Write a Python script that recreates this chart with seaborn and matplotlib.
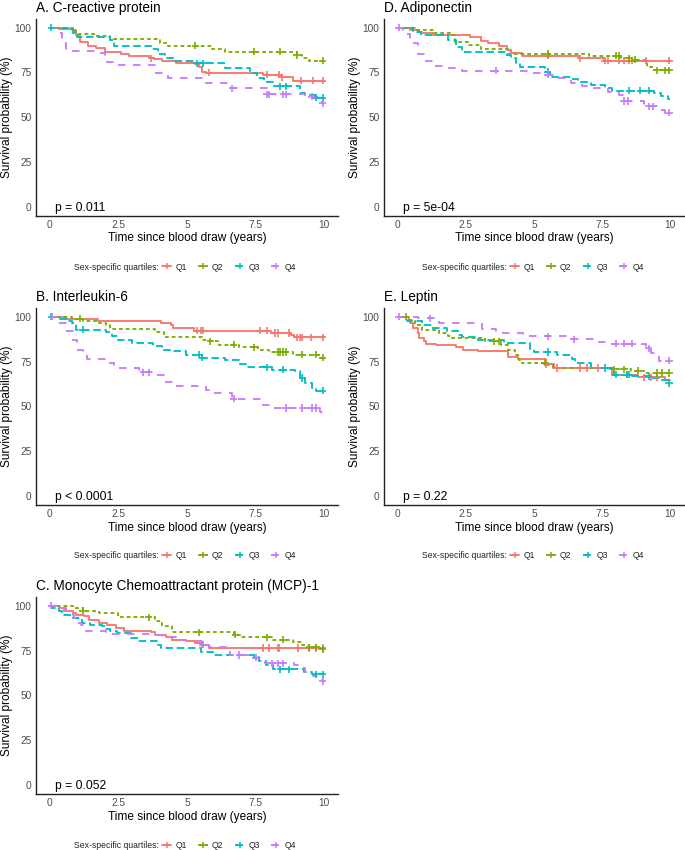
import numpy as np
import pandas as pd
import matplotlib
matplotlib.use("Agg")
import matplotlib.pyplot as plt
from matplotlib.lines import Line2D
import seaborn as sns

# ---------------- data ----------------
FOLLOW_UP = 10
GROUPS = ["Q1", "Q2", "Q3", "Q4"]

# Panel A: C-reactive protein
A_Q1_t = [0, 0.35, 0.8, 0.95, 1.1, 1.4, 1.7, 2.0, 2.6, 2.9, 3.6, 3.8, 4.1, 4.6, 5.3, 5.45, 5.55, 5.7, 7.75, 8.4, 8.85]
A_Q1_s = [100, 99, 98.7, 95.9, 92.2, 89.8, 88.5, 86.6, 85.3, 84.2, 82.9, 82.3, 81.6, 80.4, 79.7, 78.2, 75.4, 74.9, 73.6, 72.3, 70.4]
A_Q1_c = [3.7, 5.8, 7.9, 8.35, 8.45, 9.15, 9.6, 9.95]
A_Q2_t = [0, 0.8, 0.95, 1.7, 2.2, 4.0, 4.3, 5.9, 6.4, 9.0, 9.2, 9.45]
A_Q2_s = [100, 98, 96.3, 95.5, 93.5, 91.2, 89.8, 87.9, 86.6, 84.7, 82.9, 81.6]
A_Q2_c = [5.3, 7.45, 8.4, 9.0, 9.95]
A_Q3_t = [0, 0.85, 1.0, 2.2, 2.35, 3.7, 3.95, 4.2, 4.5, 5.3, 6.4, 7.3, 7.55, 7.8, 8.15, 9.1, 9.3, 9.7]
A_Q3_s = [100, 97, 95, 93, 89.5, 87.9, 85.3, 83.2, 81.6, 80.1, 77.3, 74.9, 71.7, 69.8, 67.2, 63.3, 62.4, 60.8]
A_Q3_c = [0.05, 5.35, 5.6, 8.4, 8.6, 9.7, 9.95]
A_Q4_t = [0, 0.3, 0.45, 0.6, 1.6, 2.0, 2.1, 2.4, 3.85, 4.3, 5.7, 6.6, 7.9, 9.3, 9.8, 9.9]
A_Q4_s = [100, 96.8, 91.2, 87.1, 85.6, 83.4, 81, 79.1, 74.9, 71.7, 69.3, 66.1, 62.9, 61.5, 59.6, 57.7]
A_Q4_c = [6.65, 7.9, 8.0, 8.5, 8.6, 9.55, 9.95]

# Panel B: Interleukin-6
B_Q1_t = [0, 0.6, 1.75, 4.05, 4.4, 4.5, 5.25, 8.05, 8.8, 8.9]
B_Q1_s = [100, 98.9, 97.4, 96.5, 95.2, 93.7, 92.2, 90.9, 89.6, 88.5]
B_Q1_c = [5.35, 5.5, 5.6, 7.65, 7.9, 8.2, 8.3, 8.7, 9.0, 9.1, 9.2, 9.5, 9.95]
B_Q2_t = [0, 0.8, 1.2, 1.8, 2.05, 2.2, 3.85, 4.15, 5.55, 5.8, 6.15, 6.9, 7.6, 8.0, 8.85, 9.8]
B_Q2_s = [100, 98.9, 97.4, 96.5, 95.2, 93.3, 91.4, 88.5, 87.2, 86.2, 84.4, 82.9, 81.6, 80.3, 78.8, 77]
B_Q2_c = [1.1, 5.85, 6.7, 7.45, 8.3, 8.4, 8.5, 8.6, 9.2, 9.7, 9.95]
B_Q3_t = [0, 0.3, 0.6, 0.8, 0.95, 2.05, 2.25, 2.5, 3.0, 3.75, 4.1, 4.45, 4.95, 5.55, 6.4, 6.9, 7.15, 8.1, 8.95, 9.1, 9.3, 9.55, 9.7]
B_Q3_s = [100, 98.9, 97.8, 96.5, 92.8, 91.4, 89, 87.2, 85.3, 83.5, 81.6, 80.7, 78.8, 77, 76, 73.6, 71.7, 70.4, 69.5, 65.8, 63, 60.2, 58.7]
B_Q3_c = [0.05, 1.2, 5.45, 5.55, 7.9, 8.5, 9.2, 9.95]
B_Q4_t = [0, 0.3, 0.6, 0.85, 1.0, 1.2, 1.35, 2.1, 2.35, 3.25, 3.9, 4.15, 4.5, 5.7, 5.95, 6.65, 7.7, 8.1, 9.85]
B_Q4_s = [100, 96.5, 91.8, 87.2, 81.6, 78.8, 76.6, 74.2, 71.4, 69.1, 67.6, 63.5, 61.2, 59.3, 57.2, 54.3, 50.9, 49.1, 46.8]
B_Q4_c = [0.1, 3.4, 3.6, 6.7, 8.6, 9.2, 9.55, 9.7]

# Panel C: MCP-1
C_Q1_t = [0, 0.35, 0.52, 0.83, 0.95, 1.25, 1.43, 1.8, 2.1, 2.4, 2.7, 3.7, 3.85, 4.25, 4.45, 4.95, 5.3, 5.55, 5.8]
C_Q1_s = [100, 98.7, 97.2, 95.9, 95, 94, 92.2, 90.3, 89, 87.5, 86.1, 85.3, 83.8, 82.3, 81, 80.1, 79.2, 78.3, 76.4]
C_Q1_c = [5.55, 5.6, 7.75, 8.0, 8.3, 8.35, 9.05, 9.45, 9.7, 9.95]
C_Q2_t = [0, 0.83, 1.2, 1.8, 2.5, 3.85, 4.1, 4.45, 6.72, 7.0, 8.1, 8.85, 9.2, 9.45, 9.8]
C_Q2_s = [100, 98.7, 97.2, 96, 93.5, 91.3, 88.5, 85.1, 83.8, 82.3, 81, 79.7, 78.3, 76.8, 75.8]
C_Q2_c = [1.2, 3.6, 5.45, 6.75, 7.9, 8.5, 9.45, 9.7, 9.95]
C_Q3_t = [0, 0.1, 0.34, 0.45, 0.83, 1.19, 1.45, 1.9, 2.05, 2.2, 2.45, 2.95, 3.25, 3.92, 4.05, 5.5, 5.93, 7.45, 7.63, 7.87, 8.12, 9.25, 9.55]
C_Q3_s = [100, 98.7, 96.8, 95, 93, 90.3, 89.4, 88.5, 87.2, 85.7, 84.5, 82, 80.5, 78.3, 76.4, 74.2, 72.7, 71.2, 69, 67.1, 64.5, 63, 61.7]
C_Q3_c = [8.4, 8.7, 9.7, 9.95]
C_Q4_t = [0, 0.4, 0.6, 0.83, 0.9, 0.95, 1.13, 1.31, 2.04, 2.28, 3.74, 4.1, 4.6, 4.96, 5.6, 5.8, 6.55, 7.4, 7.85, 8.9, 9.1, 9.3, 9.6, 9.9]
C_Q4_s = [100, 98.7, 97.2, 95, 93.1, 90.3, 89.4, 86.1, 85.3, 84.3, 83.5, 82.3, 81, 80.1, 78.3, 77, 72.5, 71, 68, 67, 65.5, 63, 61, 58]
C_Q4_c = [0.05, 5.6, 6.9, 7.5, 8.1, 8.3, 8.5, 9.95]

# Panel D: Adiponectin
D_Q1_t = [0, 0.45, 0.75, 0.9, 1.3, 2.65, 3.05, 3.3, 3.7, 4.0, 4.15, 4.55, 6.7, 7.55]
D_Q1_s = [100, 98.7, 97.8, 96.8, 96.0, 94.8, 92.8, 91.6, 89.8, 87.5, 85.6, 84.2, 82.9, 81.4]
D_Q1_c = [5.5, 6.7, 7.6, 7.7, 8.1, 8.3, 8.5, 8.6, 9.1, 9.95]
D_Q2_t = [0, 0.65, 1.35, 1.95, 2.1, 2.6, 3.05, 4.05, 7.0, 8.2, 8.6, 9.15, 9.4]
D_Q2_s = [100, 98.7, 96.8, 95.9, 92.2, 90.3, 87.9, 85.3, 84.2, 83.0, 82.0, 78.2, 76.3]
D_Q2_c = [5.5, 8.0, 8.1, 8.5, 8.7, 9.5, 9.8, 9.95]
D_Q3_t = [0, 0.55, 0.85, 1.85, 2.15, 2.35, 3.95, 4.15, 4.35, 4.5, 5.4, 5.6, 6.35, 6.6, 7.1, 7.6, 7.85, 9.4, 9.65, 9.9]
D_Q3_s = [100, 97.8, 95.9, 93.1, 89.4, 86.6, 84.7, 82.9, 80.1, 78.2, 75.4, 72.6, 71.2, 69.9, 68.0, 66.1, 64.8, 63.7, 61.8, 60.1]
D_Q3_c = [5.5, 8.5, 8.9, 9.2]
D_Q4_t = [0, 0.2, 0.45, 0.75, 1.0, 1.35, 1.9, 2.35, 4.8, 5.4, 5.8, 6.35, 6.75, 7.1, 7.7, 8.1, 8.25, 9.05, 9.65, 9.8]
D_Q4_s = [100, 96.5, 91.2, 85.3, 81.6, 78.8, 77.3, 76, 74.9, 73.6, 72.0, 68.9, 67.4, 66.1, 64.3, 62.4, 59.0, 56.2, 54, 52.5]
D_Q4_c = [0.05, 3.6, 5.5, 8.3, 8.45, 9.2, 9.35, 9.95]

# Panel E: Leptin
E_Q1_t = [0, 0.4, 0.45, 0.55, 0.75, 0.8, 0.95, 1.05, 1.4, 2.15, 2.4, 2.95, 4.05, 4.4, 5.45, 5.75, 7.85, 8.8, 9.8]
E_Q1_s = [100, 98.3, 96.5, 93.7, 90.9, 88.1, 86.2, 84.8, 84, 82.9, 81.6, 80.7, 77.5, 76.5, 73.5, 71.4, 67.7, 66.2, 64.5]
E_Q1_c = [5.45, 5.85, 6.7, 6.95, 7.35, 8.4, 9.05, 9.3, 9.5]
E_Q2_t = [0, 0.4, 0.63, 0.88, 1.5, 1.85, 2.0, 3.2, 3.8, 4.05, 4.3, 4.45, 4.55, 5.5, 5.7, 7.8, 8.55, 9.05]
E_Q2_s = [100, 98.3, 95.5, 92.8, 90.9, 89.0, 88.1, 86.2, 84.4, 81.6, 78.8, 76, 74.2, 72.9, 71.4, 70.8, 69.9, 68.6]
E_Q2_c = [0.3, 3.55, 3.7, 5.4, 7.95, 8.3, 8.8, 9.5, 9.7, 9.95]
E_Q3_t = [0, 0.33, 0.88, 1.25, 1.8, 2.2, 2.35, 2.95, 3.9, 4.85, 5.0, 5.85, 6.4, 6.5, 7.1, 7.95, 8.6, 9.3, 9.6, 9.9]
E_Q3_s = [100, 97.4, 95.5, 93.7, 91.8, 90, 88.5, 87.2, 85.3, 82, 80.3, 78.8, 76.6, 74.2, 71.4, 67.7, 66.7, 65.8, 64.9, 63]
E_Q3_c = [5.5, 7.6, 8.0, 8.4, 8.5, 9.2, 9.95]
E_Q4_t = [0, 0.75, 1.5, 3.1, 3.6, 4.6, 6.4, 7.4, 7.7, 9.1, 9.3, 9.6]
E_Q4_s = [100, 99, 96.5, 93, 91, 89, 87.5, 86, 85, 82.5, 80, 75.5]
E_Q4_c = [0.05, 1.2, 5.5, 6.45, 8.0, 8.3, 8.6, 9.2, 9.95]

TITLES = {"A": "A. C-reactive protein", "B": "B. Interleukin-6",
          "C": "C. Monocyte Chemoattractant protein (MCP)-1",
          "D": "D. Adiponectin", "E": "E. Leptin"}
PVALUES = {"A": "p = 0.011", "B": "p < 0.0001", "C": "p = 0.052",
           "D": "p = 5e-04", "E": "p = 0.22"}
X_TICKS = [0, 2.5, 5, 7.5, 10]
X_TICKLABELS = ["0", "2.5", "5", "7.5", "10"]
Y_TICKS = [0, 25, 50, 75, 100]

CURVES = {
    "A": [(A_Q1_t, A_Q1_s, A_Q1_c), (A_Q2_t, A_Q2_s, A_Q2_c), (A_Q3_t, A_Q3_s, A_Q3_c), (A_Q4_t, A_Q4_s, A_Q4_c)],
    "B": [(B_Q1_t, B_Q1_s, B_Q1_c), (B_Q2_t, B_Q2_s, B_Q2_c), (B_Q3_t, B_Q3_s, B_Q3_c), (B_Q4_t, B_Q4_s, B_Q4_c)],
    "C": [(C_Q1_t, C_Q1_s, C_Q1_c), (C_Q2_t, C_Q2_s, C_Q2_c), (C_Q3_t, C_Q3_s, C_Q3_c), (C_Q4_t, C_Q4_s, C_Q4_c)],
    "D": [(D_Q1_t, D_Q1_s, D_Q1_c), (D_Q2_t, D_Q2_s, D_Q2_c), (D_Q3_t, D_Q3_s, D_Q3_c), (D_Q4_t, D_Q4_s, D_Q4_c)],
    "E": [(E_Q1_t, E_Q1_s, E_Q1_c), (E_Q2_t, E_Q2_s, E_Q2_c), (E_Q3_t, E_Q3_s, E_Q3_c), (E_Q4_t, E_Q4_s, E_Q4_c)],
}

# ---------------- styling ----------------
COLORS = ["#F8766D", "#7CAE00", "#00BFC4", "#C77CFF"]
PAL = dict(zip(GROUPS, COLORS))
DASHES = {"Q1": "", "Q2": (2, 1.6), "Q3": (4, 2), "Q4": (4, 4)}
LW = 1.35

sns.set_style("white")
plt.rcParams["font.family"] = ["Liberation Sans", "DejaVu Sans"]

W, H = 685, 850
fig = plt.figure(figsize=(W / 100, H / 100), dpi=100)

# panel boxes in pixels: left, top, right, bottom
BOXES = {
    "A": (36, 18.7, 338, 215.6),
    "D": (384, 18.7, 684, 215.6),
    "B": (36, 307.7, 338, 505),
    "E": (384, 307.7, 684, 505),
    "C": (36, 596.7, 338, 794),
}
LEGEND_Y = {"A": 267, "D": 267, "B": 556, "E": 556, "C": 846}


def build(curves):
    rows, cens = [], []
    for g, (t, s, c) in zip(GROUPS, curves):
        tt = list(t) + [FOLLOW_UP]
        ss = list(s) + [s[-1]]
        for a, b in zip(tt, ss):
            rows.append((g, a, b))
        for ct in c:
            idx = np.searchsorted(t, ct, side="right") - 1
            cens.append((g, ct, s[idx]))
    return (pd.DataFrame(rows, columns=["group", "time", "surv"]),
            pd.DataFrame(cens, columns=["group", "time", "surv"]))


for key, (l, t, r, b) in BOXES.items():
    ax = fig.add_axes([l / W, 1 - b / H, (r - l) / W, (b - t) / H])
    df, cdf = build(CURVES[key])
    sns.lineplot(data=df, x="time", y="surv", hue="group", style="group",
                 hue_order=GROUPS, style_order=GROUPS, palette=PAL,
                 dashes=DASHES, estimator=None, sort=False,
                 drawstyle="steps-post", linewidth=LW, legend=False, ax=ax)
    sns.scatterplot(data=cdf, x="time", y="surv", hue="group",
                    hue_order=GROUPS, palette=PAL, marker="+", s=26,
                    linewidth=1.2, legend=False, ax=ax, zorder=3)
    ax.set_xlim(-0.5, 10.5)
    ax.set_ylim(-5, 105)
    ax.set_xticks(X_TICKS)
    ax.set_xticklabels(X_TICKLABELS)
    ax.set_yticks(Y_TICKS)
    for sp in ["top", "right"]:
        ax.spines[sp].set_visible(False)
    for sp in ["left", "bottom"]:
        ax.spines[sp].set_color("#222222")
        ax.spines[sp].set_linewidth(1.0)
    ax.tick_params(axis="both", length=2.0, width=0.9, color="#333333",
                   labelsize=7.3, labelcolor="#4D4D4D", pad=1.2)
    ax.set_xlabel("Time since blood draw (years)", fontsize=8.6, labelpad=1.5, color="black")
    ax.set_ylabel("Survival probability (%)", fontsize=8.6, labelpad=1.0, color="black")
    ax.set_title(TITLES[key], loc="left", fontsize=9.8, pad=5, color="black")
    ax.text(0.2, -0.8, PVALUES[key], fontsize=8.7, ha="left", va="center", color="black")

    # legend
    ly = 1 - LEGEND_Y[key] / H
    fig.text((l + 123) / W, ly, "Sex-specific quartiles:", fontsize=6.2,
             ha="right", va="center", color="#222222")
    handles = [Line2D([0], [0], color=PAL[g], lw=LW, dashes=DASHES[g] if DASHES[g] else (None, None),
                      marker="+", markersize=5, markeredgewidth=1.1) for g in GROUPS]
    ax.legend(handles, GROUPS, loc="center left",
              bbox_to_anchor=((l + 126) / W, ly), bbox_transform=fig.transFigure,
              ncol=4, frameon=False, fontsize=6.2, handlelength=1.1,
              handletextpad=0.5, columnspacing=1.3, borderpad=0, borderaxespad=0,
              labelcolor="#222222")

fig.savefig("out.png", dpi=100)
